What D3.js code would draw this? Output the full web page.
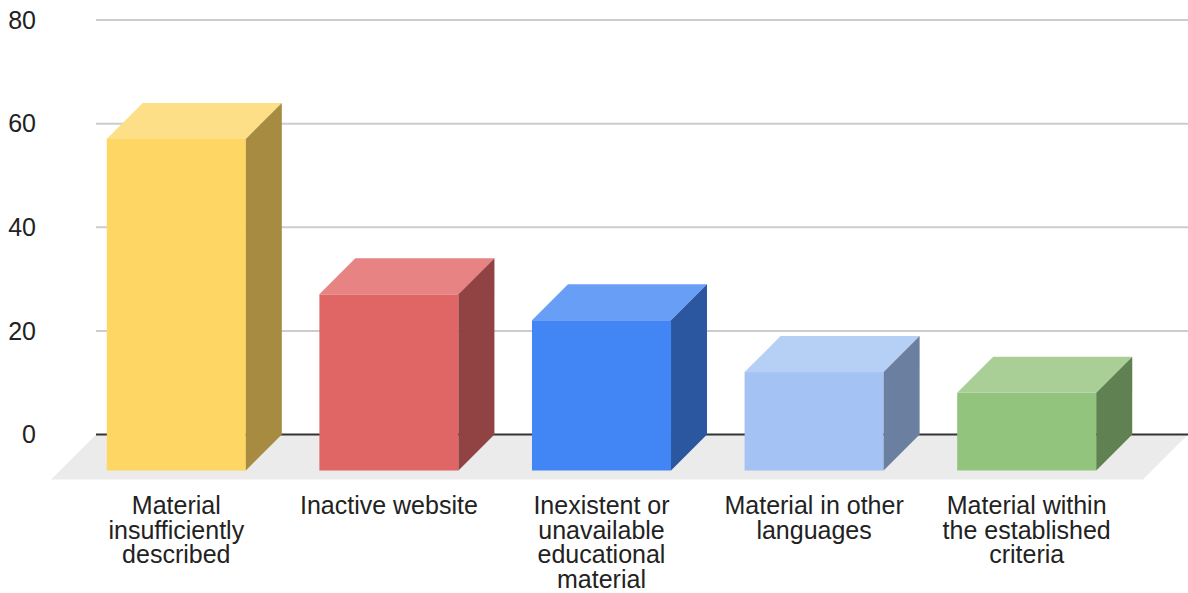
<!DOCTYPE html>
<html>
<head>
<meta charset="utf-8">
<script src="https://cdn.jsdelivr.net/npm/d3@7"></script>
<style>
  html, body { margin: 0; padding: 0; background: #fff; }
  svg { display: block; }
  text { font-family: "Liberation Sans", Arial, sans-serif; fill: #222; }
</style>
</head>
<body>
<div id="chart"></div>
<script>
// Categories, each label broken into the lines it is drawn with
const categories = [
  "Material insufficiently described",
  "Inactive website",
  "Inexistent or unavailable educational material",
  "Material in other languages",
  "Material within the established criteria"
];
const labelLines = [
  ["Material", "insufficiently", "described"],
  ["Inactive website"],
  ["Inexistent or", "unavailable", "educational", "material"],
  ["Material in other", "languages"],
  ["Material within", "the established", "criteria"]
];
const values = [64, 34, 29, 19, 15];
const yTicks = [0, 20, 40, 60, 80];

// Face colours per bar: front, top, side
const frontColors = ["#fdd663", "#e06666", "#4285f4", "#a4c2f4", "#93c47d"];
const topColors   = ["#fcdf86", "#e88383", "#699ef6", "#b6cff5", "#a9cf97"];
const sideColors  = ["#a68b41", "#914242", "#2b56a0", "#6b7fa0", "#608151"];

const W = 1188, H = 593;
const depth = 36;       // bar depth (45° oblique projection)
const floorDepth = 45;  // depth of the floor slab
const backLeft = 96, backRight = 1188;

const svg = d3.select("#chart").append("svg")
  .attr("width", W).attr("height", H);

const y = d3.scaleLinear().domain([0, 80]).range([434.5, 20]);

// x scale on the front plane of the bars
const x = d3.scaleBand()
  .domain(categories)
  .range([70, 1133])
  .paddingInner(0.346)
  .paddingOuter(0.173);

// Gridlines on the back wall
svg.append("g").selectAll("line")
  .data(yTicks.filter(d => d !== 0))
  .join("line")
  .attr("x1", backLeft).attr("x2", backRight)
  .attr("y1", d => y(d)).attr("y2", d => y(d))
  .attr("stroke", "#cccccc").attr("stroke-width", 2);

// Floor
const y0 = y(0);
svg.append("polygon")
  .attr("points", [
    [backLeft, y0], [backRight, y0],
    [backRight - floorDepth, y0 + floorDepth], [backLeft - floorDepth, y0 + floorDepth]
  ].map(p => p.join(",")).join(" "))
  .attr("fill", "#ebebeb");

// Baseline
svg.append("line")
  .attr("x1", backLeft).attr("x2", backRight)
  .attr("y1", y0).attr("y2", y0)
  .attr("stroke", "#333333").attr("stroke-width", 2);

// Y axis tick labels
svg.append("g").selectAll("text")
  .data(yTicks)
  .join("text")
  .attr("x", 36)
  .attr("y", d => y(d))
  .attr("dy", "0.35em")
  .attr("text-anchor", "end")
  .attr("font-size", 25)
  .text(d => d);

// 3D bars
const bars = svg.append("g").selectAll("g")
  .data(categories.map((c, i) => ({ c, i, v: values[i] })))
  .join("g");

const pts = a => a.map(p => p.join(",")).join(" ");

bars.each(function(d) {
  const g = d3.select(this);
  const xl = x(d.c), xr = xl + x.bandwidth();
  const yt = y(d.v) + depth, yb = y(0) + depth;
  g.append("rect")
    .attr("x", xl).attr("y", yt)
    .attr("width", xr - xl).attr("height", yb - yt)
    .attr("fill", frontColors[d.i]);
  g.append("polygon")
    .attr("points", pts([[xl, yt], [xl + depth, yt - depth], [xr + depth, yt - depth], [xr, yt]]))
    .attr("fill", topColors[d.i]);
  g.append("polygon")
    .attr("points", pts([[xr, yt], [xr + depth, yt - depth], [xr + depth, yb - depth], [xr, yb]]))
    .attr("fill", sideColors[d.i]);
});

// Category labels
const labels = svg.append("g").selectAll("text")
  .data(categories.map((c, i) => ({ c, lines: labelLines[i] })))
  .join("text")
  .attr("text-anchor", "middle")
  .attr("font-size", 25)
  .attr("x", d => x(d.c) + x.bandwidth() / 2)
  .attr("y", 514);

labels.selectAll("tspan")
  .data(d => d.lines.map(l => ({ l, cx: x(d.c) + x.bandwidth() / 2 })))
  .join("tspan")
  .attr("x", d => d.cx)
  .attr("dy", (d, i) => i === 0 ? 0 : 24.5)
  .text(d => d.l);
</script>
</body>
</html>
